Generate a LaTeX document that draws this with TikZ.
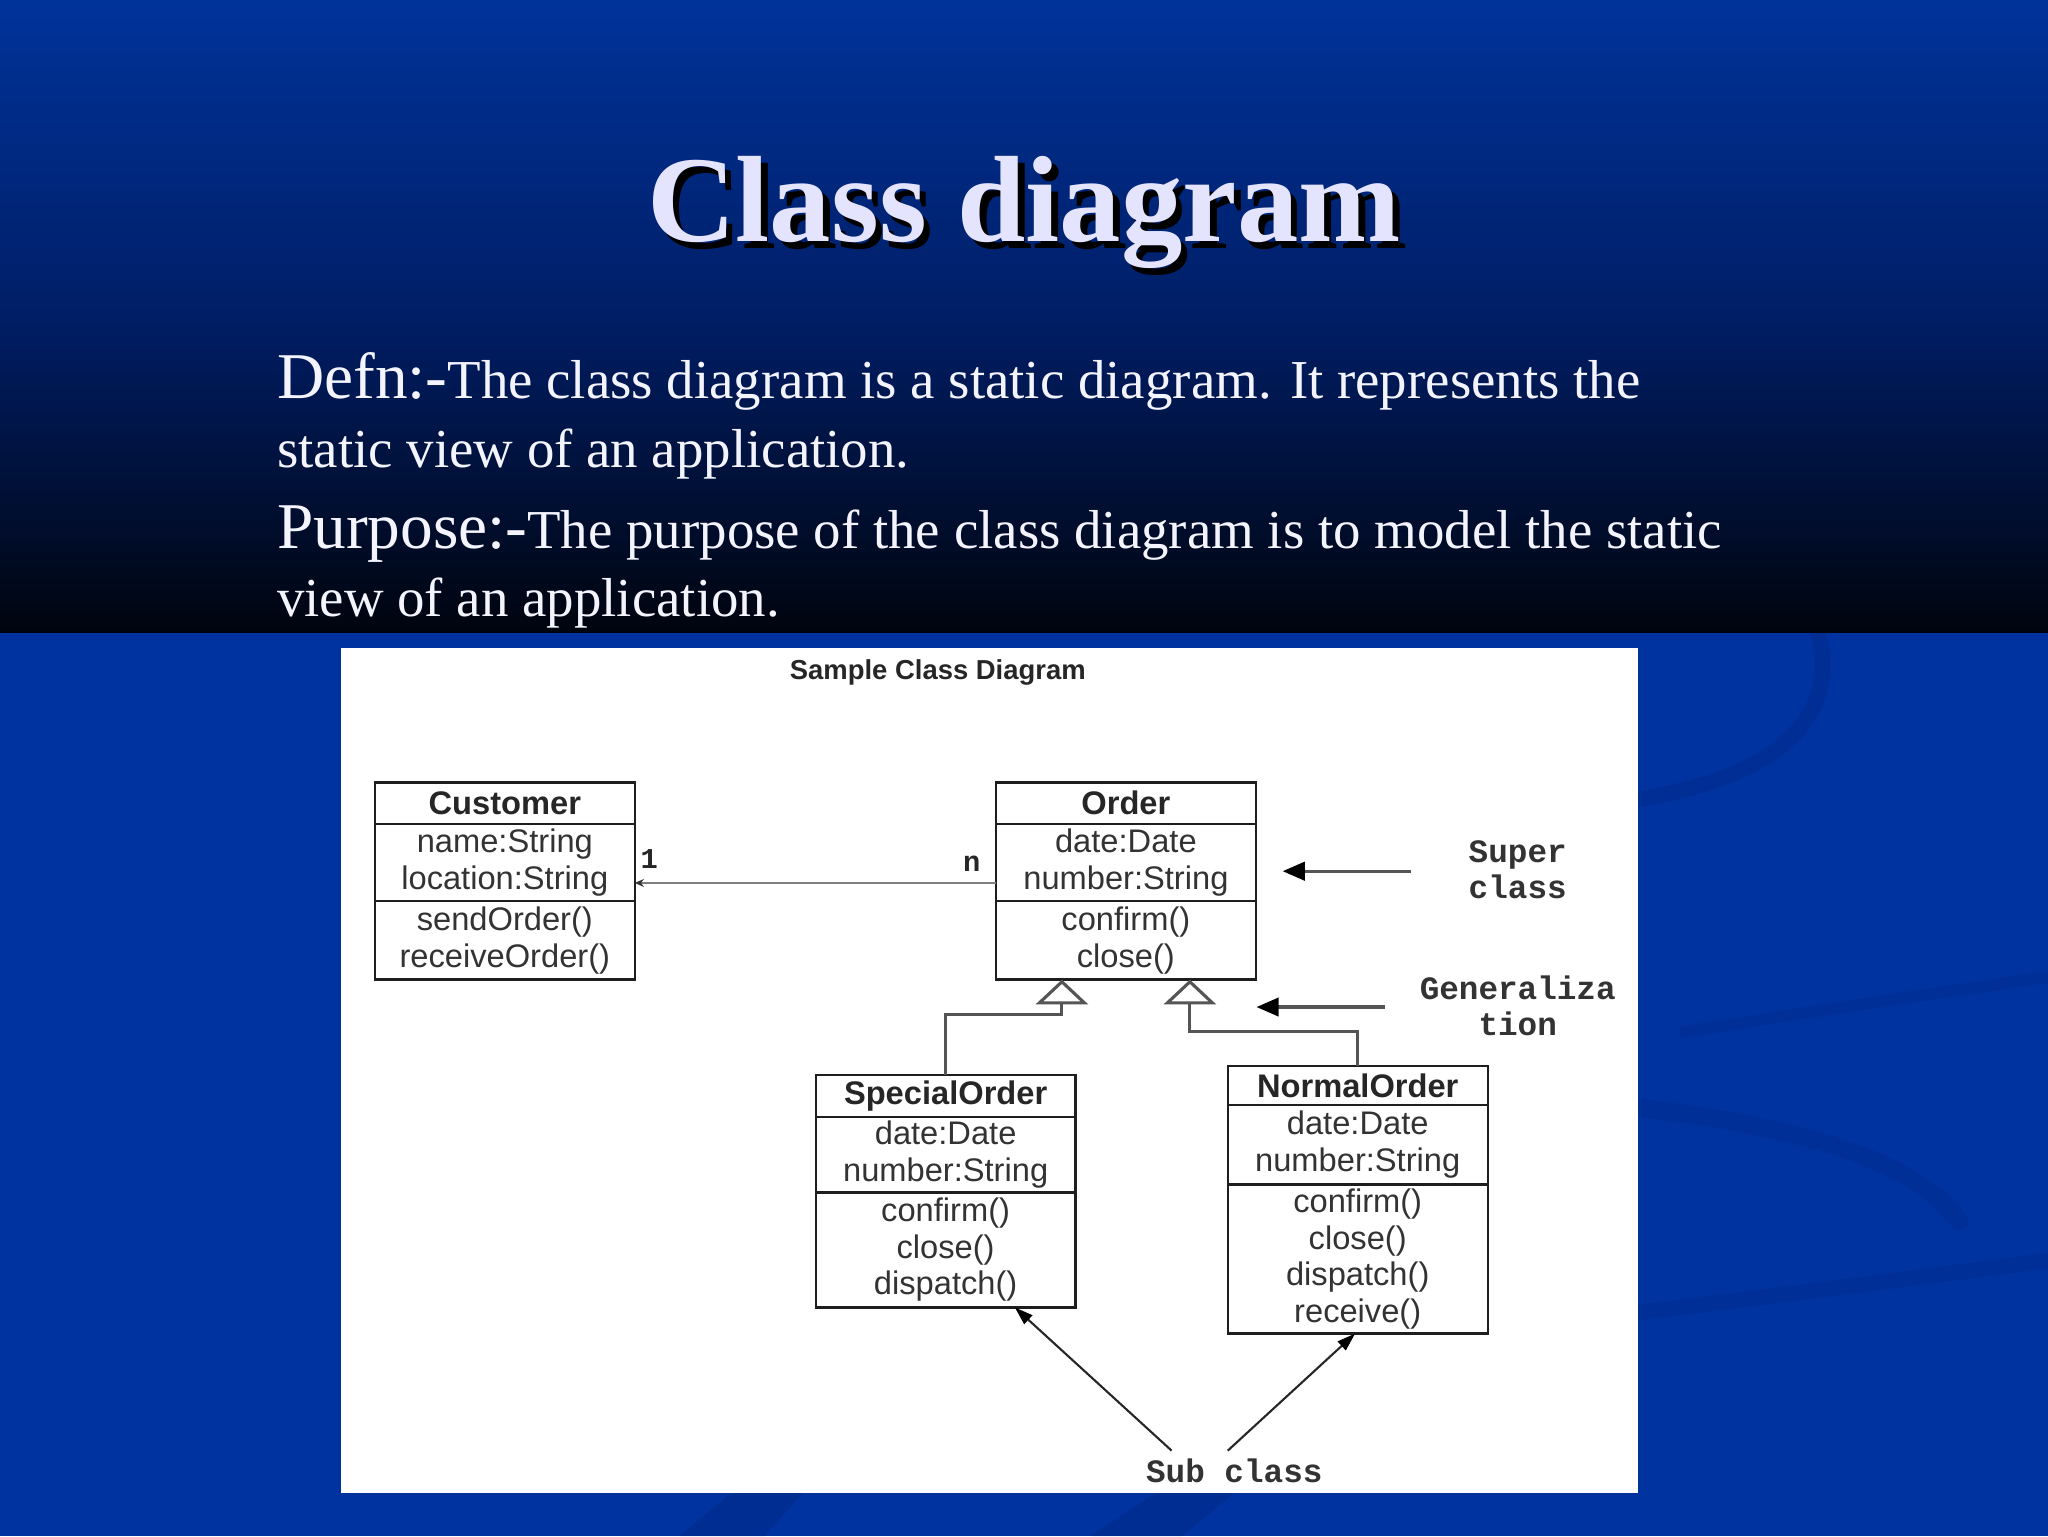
\documentclass[tikz,border=0pt]{standalone}
\usepackage{fontspec}
\setmainfont{Liberation Serif}
\newfontfamily\arialf{Liberation Sans}
\newfontfamily\courf{Liberation Mono}
\usetikzlibrary{arrows.meta,positioning,calc}
\definecolor{topblue}{HTML}{00339A}
\definecolor{midblue}{HTML}{001E66}
\definecolor{darkbot}{HTML}{00040E}
\definecolor{lowblue}{HTML}{0033A0}
\definecolor{swirlcol}{HTML}{00277F}
\definecolor{titlecol}{HTML}{E4E4FF}
\definecolor{bodycol}{HTML}{F4F4FF}
\definecolor{linecol}{HTML}{1E1E1E}
\definecolor{graycol}{HTML}{555555}
\begin{document}
\begin{tikzpicture}[x=1pt,y=-1pt,
  ctitle/.style={draw=linecol, line width=1.8, fill=white, minimum width=199, inner sep=0, outer sep=0,
    font=\arialf\bfseries\fontsize{25}{28}\selectfont, text=black!85, anchor=north},
  cpart/.style={draw=linecol, line width=1.8, fill=white, minimum width=199, inner sep=0, outer sep=0,
    font=\arialf\fontsize{25}{28}\selectfont, text=black!80, align=center, anchor=north},
  mult/.style={font=\courf\bfseries\fontsize{22}{22}\selectfont, text=black!85, inner sep=0},
  note/.style={font=\courf\bfseries\fontsize{25}{28}\selectfont, text=black!80, align=center, inner sep=0},
  pointer/.style={draw=graycol, line width=2.6, -{Triangle[length=17,width=14,color=black]}},
  assoc/.style={draw=gray, line width=1.6, -{Stealth[length=7,width=6,color=black!80]}},
  genl/.style={draw=graycol, line width=2.4, -{Triangle[open, length=19, width=40, fill=white]}},
  subarr/.style={draw=black!85, line width=1.6, -{Triangle[length=14,width=9,color=black]}},
  bodytext/.style={text=bodycol, anchor=base west, inner sep=0, font=\fontsize{42}{42}\selectfont},
  swirl/.style={draw=swirlcol, line cap=round}
]
\useasboundingbox (0,0) rectangle (1568,1176);
% background
\fill[lowblue] (0,0) rectangle (1568,1176);
\draw[swirl, line width=12, opacity=0.35] (1254,612) .. controls (1340,598) and (1412,562) .. (1392,484);
\draw[swirl, line width=9, opacity=0.25] (1290,790) .. controls (1400,772) and (1500,758) .. (1568,748);
\draw[swirl, line width=14, opacity=0.25] (1254,848) .. controls (1350,860) and (1460,880) .. (1500,935);
\draw[swirl, line width=12, opacity=0.25] (1254,1005) .. controls (1360,992) and (1470,978) .. (1568,965);
\fill[swirlcol, opacity=0.45] (560,1143) -- (615,1143) -- (585,1176) -- (520,1176) -- cycle;
\fill[swirlcol, opacity=0.45] (885,1143) -- (945,1143) -- (905,1176) -- (835,1176) -- cycle;
\shade[top color=topblue, bottom color=darkbot, middle color=midblue] (0,0) rectangle (1568,484);
% title with its shadow in one node
\node[anchor=base, text=titlecol, inner sep=0, font=\bfseries\fontsize{94}{94}\selectfont] (title) at (784,185)
  {\makebox[0pt][l]{\hspace{5pt}\raisebox{-5pt}{\color{black}Class diagram}}Class diagram};
% body
\node[bodytext] (l1) at (212,305) {{\fontsize{50}{50}\selectfont Defn:-}The class diagram is a static diagram. It represents the};
\node[bodytext] (l2) at (212,358) {static view of an application.};
\node[bodytext] (l3) at (212,420) {{\fontsize{50}{50}\selectfont Purpose:-}The purpose of the class diagram is to model the static};
\node[bodytext] (l4) at (212,472) {view of an application.};
% panel
\fill[white] (261,496) rectangle (1254,1143);
\node[font=\arialf\bfseries\fontsize{21}{21}\selectfont, text=black!85] (cap) at (718,515) {Sample Class Diagram};
% Customer
\node[ctitle, minimum height=32] (cust) at (386.5,599) {Customer};
\node[cpart, minimum height=59] (custA) at (cust.south) {name:String\\location:String};
\node[cpart, minimum height=60] (custM) at (custA.south) {sendOrder()\\receiveOrder()};
% Order
\node[ctitle, minimum height=32] (ord) at (862,599) {Order};
\node[cpart, minimum height=59] (ordA) at (ord.south) {date:Date\\number:String};
\node[cpart, minimum height=60] (ordM) at (ordA.south) {confirm()\\close()};
% SpecialOrder
\node[ctitle, minimum height=32] (spec) at (724,823) {SpecialOrder};
\node[cpart, minimum height=58] (specA) at (spec.south) {date:Date\\number:String};
\node[cpart, minimum height=88] (specM) at (specA.south) {confirm()\\close()\\dispatch()};
% NormalOrder
\node[ctitle, minimum height=30] (norm) at (1039.5,816) {NormalOrder};
\node[cpart, minimum height=61] (normA) at (norm.south) {date:Date\\number:String};
\node[cpart, minimum height=114] (normM) at (normA.south) {confirm()\\close()\\dispatch()\\receive()};
% association
\draw[assoc] ([yshift=-15.5]ordA.west) -- ([yshift=-15.5]custA.east);
\node[mult] (m1) at (497,658) {1};
\node[mult] (mn) at (744,661) {n};
% generalization
\draw[genl] (spec.north) |- ([xshift=-49,yshift=-27]ordM.south) -- ([xshift=-49]ordM.south);
\draw[genl] (norm.north) |- ([xshift=49,yshift=-40]ordM.south) -- ([xshift=49]ordM.south);
% notes
\node[note] (super) at (1162,666) {Super\\class};
\coordinate (supS) at (1080,667);
\coordinate (supE) at (982,667);
\draw[pointer] (supS) -- (supE);
\node[note] (gen) at (1162,770) {Generaliza\\tion};
\coordinate (genS) at (1060,771);
\coordinate (genE) at (962,771);
\draw[pointer] (genS) -- (genE);
\node[note] (sub) at (945,1126) {Sub class};
\draw[subarr] ([xshift=-48,yshift=6]sub.north) -- ([xshift=53]specM.south);
\draw[subarr] ([xshift=-5,yshift=6]sub.north) -- ([xshift=-2]normM.south);
\end{tikzpicture}
\end{document}
